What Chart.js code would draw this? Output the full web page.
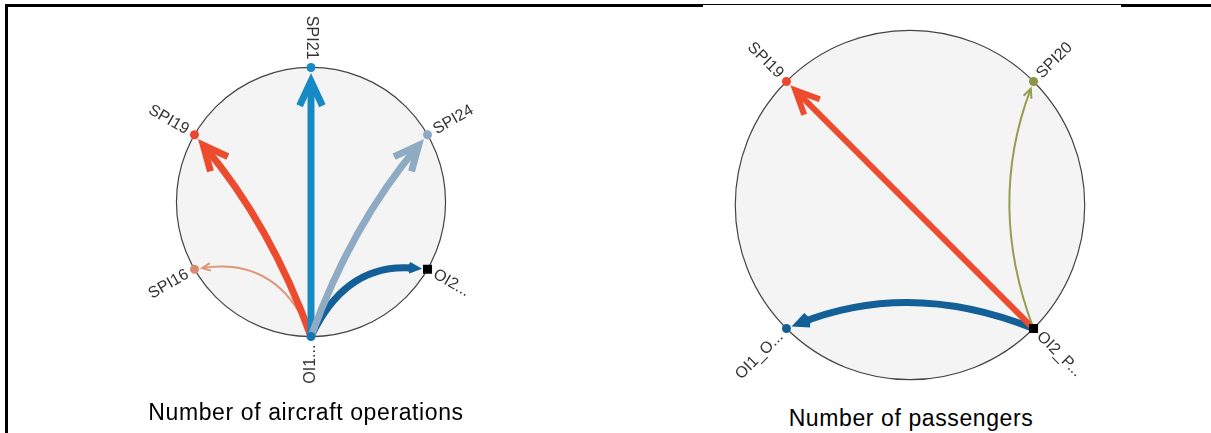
<!DOCTYPE html>
<html>
<head>
<meta charset="utf-8">
<script src="https://cdn.jsdelivr.net/npm/chart.js@4.4.1/dist/chart.umd.min.js"></script>
<style>
    body { margin: 0; background: #fff; width: 1211px; height: 433px; overflow: hidden; position: relative; }
    .frame { position: absolute; background: #000; }
    .box { position: absolute; width: 400px; height: 400px; }
    .caption { position: absolute; font-family: 'Liberation Sans', Arial, sans-serif; font-size: 23px; line-height: 23px; letter-spacing: 0.6px; color: #000; white-space: nowrap; transform: translateX(-50%); }
</style>
</head>
<body>
<div class="frame" style="left:5px; top:4px; width:3px; height:440px;"></div>
<div class="frame" style="left:5px; top:4px; width:698px; height:3px;"></div>
<div class="frame" style="left:703px; top:4px; width:418px; height:1px;"></div>
<div class="frame" style="left:1121px; top:4px; width:90px; height:3px;"></div>

<div class="box" style="left:111px; top:2px;"><canvas id="opsChart"></canvas></div>
<div class="box" style="left:710px; top:5px;"><canvas id="paxChart"></canvas></div>

<div class="caption" style="left:306px; top:401px;">Number of aircraft operations</div>
<div class="caption" style="left:911px; top:407px;">Number of passengers</div>

<script>
// Number of aircraft operations
const opsNodes = ['SPI21', 'SPI19', 'SPI16', 'OI1...', 'OI2...', 'SPI24'];
const opsAngles = [90, 150, 210, 270, 330, 30];
const opsFrom = ['OI1...', 'OI1...', 'OI1...', 'OI1...', 'OI1...'];
const opsTo = ['SPI16', 'OI2...', 'SPI19', 'SPI21', 'SPI24'];
const opsWeights = [2, 7, 7, 7, 7];

// Number of passengers
const paxNodes = ['SPI19', 'OI1_O...', 'OI2_P...', 'SPI20'];
const paxAngles = [135, 225, 315, 45];
const paxFrom = ['OI2_P...', 'OI2_P...', 'OI2_P...'];
const paxTo = ['OI1_O...', 'SPI19', 'SPI20'];
const paxWeights = [7, 6, 2];

const ARM = 25 * Math.PI / 180;

function ringPlugin(cfg) {
    return {
        id: 'ring',
        beforeDatasetsDraw(chart) {
            const ctx = chart.ctx;
            const xs = chart.scales.x, ys = chart.scales.y;
            const cx = xs.getPixelForValue(0), cy = ys.getPixelForValue(0);
            const r = xs.getPixelForValue(1) - cx;
            const pts = chart.getDatasetMeta(0).data;

            ctx.save();
            ctx.beginPath();
            ctx.arc(cx, cy, r, 0, Math.PI * 2);
            ctx.fillStyle = '#f4f4f4';
            ctx.fill();
            ctx.lineWidth = 1.2;
            ctx.strokeStyle = '#444444';
            ctx.stroke();

            // links: quadratic arcs with an open chevron at the target
            cfg.from.forEach((f, k) => {
                const a = pts[cfg.nodes.indexOf(f)];
                const b = pts[cfg.nodes.indexOf(cfg.to[k])];
                const w = cfg.weights[k];
                const dx = b.x - a.x, dy = b.y - a.y;
                const len = Math.hypot(dx, dy);
                const ux = dx / len, uy = dy / len;
                const bend = cfg.bend[k] * len;
                const qx = (a.x + b.x) / 2 - uy * bend;
                const qy = (a.y + b.y) / 2 + ux * bend;
                let ex = b.x - qx, ey = b.y - qy;
                const el = Math.hypot(ex, ey);
                ex /= el; ey /= el;
                const gap = 5.5 + w / (2 * Math.sin(ARM));
                const tx = b.x - ex * gap, ty = b.y - ey * gap;

                ctx.strokeStyle = cfg.linkColors[k];
                ctx.lineWidth = w;
                ctx.lineCap = 'butt';
                ctx.beginPath();
                ctx.moveTo(a.x, a.y);
                ctx.quadraticCurveTo(qx, qy, tx, ty);
                ctx.stroke();

                const th = Math.atan2(ey, ex) + Math.PI;
                const h = cfg.head[k];
                ctx.lineJoin = 'miter';
                ctx.miterLimit = 3;
                ctx.beginPath();
                ctx.moveTo(tx + h * Math.cos(th - ARM), ty + h * Math.sin(th - ARM));
                ctx.lineTo(tx, ty);
                ctx.lineTo(tx + h * Math.cos(th + ARM), ty + h * Math.sin(th + ARM));
                ctx.stroke();
            });
            ctx.restore();
        },
        afterDatasetsDraw(chart) {
            const ctx = chart.ctx;
            const pts = chart.getDatasetMeta(0).data;
            ctx.save();
            ctx.font = '16px "Liberation Sans", Arial, sans-serif';
            ctx.fillStyle = '#333333';
            ctx.textBaseline = 'middle';
            cfg.nodes.forEach((name, i) => {
                const deg = cfg.angles[i];
                const flip = deg >= 90 && deg <= 270;
                const phi = -deg * Math.PI / 180;
                ctx.save();
                ctx.translate(pts[i].x, pts[i].y);
                if (flip) {
                    ctx.rotate(phi + Math.PI);
                    ctx.textAlign = 'right';
                    ctx.fillText(name, -8, 0);
                } else {
                    ctx.rotate(phi);
                    ctx.textAlign = 'left';
                    ctx.fillText(name, 8, 0);
                }
                ctx.restore();
            });
            ctx.restore();
        }
    };
}

function makeRing(id, cfg) {
    const rad = cfg.angles.map(d => d * Math.PI / 180);
    new Chart(document.getElementById(id).getContext('2d'), {
        type: 'scatter',
        data: {
            datasets: [{
                data: rad.map(a => ({ x: Math.cos(a), y: Math.sin(a) })),
                pointBackgroundColor: cfg.nodeColors,
                pointStyle: cfg.nodeShapes,
                pointRadius: cfg.nodeShapes.map(s => s === 'rect' ? 6.4 : 4.5),
                pointBorderWidth: 0
            }]
        },
        options: {
            responsive: true,
            maintainAspectRatio: false,
            animation: false,
            events: [],
            layout: { padding: 0 },
            plugins: {
                legend: { display: false },
                tooltip: { enabled: false }
            },
            scales: {
                x: { type: 'linear', min: -cfg.span, max: cfg.span, display: false },
                y: { type: 'linear', min: -cfg.span, max: cfg.span, display: false }
            }
        },
        plugins: [ringPlugin(cfg)]
    });
}

makeRing('opsChart', {
    nodes: opsNodes,
    angles: opsAngles,
    from: opsFrom,
    to: opsTo,
    weights: opsWeights,
    span: 200 / 139,
    nodeColors: ['#1a8ac6', '#e9482d', '#d98b6d', '#1677b0', '#000000', '#8eaac2'],
    nodeShapes: ['circle', 'circle', 'circle', 'circle', 'rect', 'circle'],
    linkColors: ['#de9678', '#135f97', '#ec4b2e', '#1789c4', '#8eabc3'],
    bend: [0.4, -0.35, 0.09, 0, -0.09],
    head: [9, 6, 27, 27, 27]
});

makeRing('paxChart', {
    nodes: paxNodes,
    angles: paxAngles,
    from: paxFrom,
    to: paxTo,
    weights: paxWeights,
    span: 200 / 180.5,
    nodeColors: ['#e9482d', '#145e96', '#000000', '#8c9447'],
    nodeShapes: ['circle', 'circle', 'rect', 'circle'],
    linkColors: ['#135f97', '#ec4b2e', '#979c52'],
    bend: [0.2, 0, -0.19],
    head: [11, 26, 10]
});
</script>
</body>
</html>
